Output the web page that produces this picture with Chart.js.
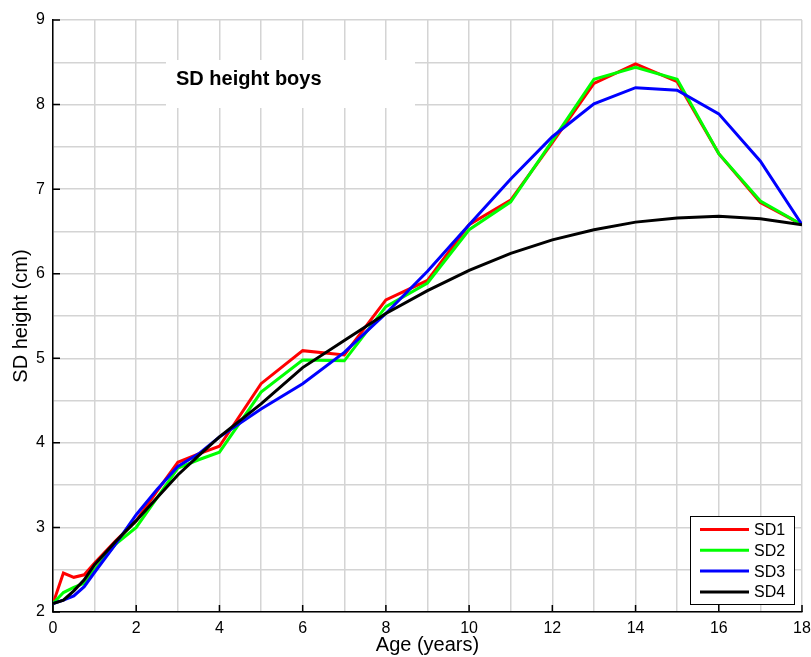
<!DOCTYPE HTML>
<html lang="EN">
  <head>
    <meta charset="utf-8">
    <title>SD height boys</title>
    <style>
      body { margin: 0; background: #fff; }
    </style>
  </head>
  <body>
    <canvas id="sdChart" width="811" height="657"></canvas>

    <script src="https://cdn.jsdelivr.net/npm/chart.js"></script>
    <script>
    const ages = [0, 0.25, 0.5, 0.75, 1, 1.5, 2, 2.5, 3, 3.5, 4, 5, 6, 7, 8, 9, 10, 11, 12, 13, 14, 15, 16, 17, 18];

    const sd1 = [2.1, 2.46, 2.41, 2.44, 2.58, 2.84, 3.08, 3.43, 3.77, 3.87, 3.96, 4.70, 5.09, 5.04, 5.69, 5.92, 6.58, 6.87, 7.55, 8.25, 8.48, 8.27, 7.42, 6.84, 6.58];
    const sd2 = [2.1, 2.23, 2.29, 2.34, 2.5, 2.8, 3.0, 3.35, 3.7, 3.8, 3.89, 4.60, 4.98, 4.97, 5.61, 5.89, 6.52, 6.85, 7.57, 8.30, 8.44, 8.30, 7.42, 6.86, 6.58];
    const sd3 = [2.1, 2.14, 2.19, 2.3, 2.47, 2.8, 3.15, 3.45, 3.72, 3.87, 4.07, 4.40, 4.70, 5.07, 5.53, 6.03, 6.58, 7.12, 7.62, 8.01, 8.20, 8.17, 7.89, 7.33, 6.58];
    const sd4 = [2.1, 2.14, 2.25, 2.38, 2.56, 2.83, 3.08, 3.35, 3.62, 3.85, 4.07, 4.46, 4.89, 5.21, 5.53, 5.80, 6.04, 6.24, 6.40, 6.52, 6.61, 6.66, 6.68, 6.65, 6.58];

    const seriesNames = ['SD1', 'SD2', 'SD3', 'SD4'];
    const seriesColors = ['#ff0000', '#00ff00', '#0000ff', '#000000'];
    const seriesValues = [sd1, sd2, sd3, sd4];

    const chartTitle = 'SD height boys';
    const xTitle = 'Age (years)';
    const yTitle = 'SD height (cm)';

    const FONT = '"Liberation Sans", Arial, Helvetica, sans-serif';

    const datasets = seriesValues.map(function(vals, i){
      return {
        label: seriesNames[i],
        data: vals.map(function(v, j){ return { x: ages[j], y: v }; }),
        borderColor: seriesColors[i],
        backgroundColor: seriesColors[i],
        borderWidth: 3,
        pointRadius: 0,
        tension: 0,
        order: seriesValues.length - i
      };
    });

    // title box, legend box and inward tick marks like the matlab figure
    const extras = {
      id: 'extras',
      beforeDatasetsDraw: function(chart){
        const ctx = chart.ctx;
        ctx.save();
        ctx.fillStyle = '#fff';
        ctx.fillRect(166, 60, 249, 48);
        ctx.fillStyle = '#000';
        ctx.font = 'bold 20px ' + FONT;
        ctx.textBaseline = 'alphabetic';
        ctx.fillText(chartTitle, 176, 85);
        ctx.restore();
      },
      afterDatasetsDraw: function(chart){
        const ctx = chart.ctx;
        const x = chart.scales.x, y = chart.scales.y;
        const area = chart.chartArea;
        ctx.save();
        ctx.strokeStyle = '#000';
        ctx.lineWidth = 1.5;
        ctx.beginPath();
        for (let a = 0; a <= 18; a += 2) {
          const px = x.getPixelForValue(a);
          ctx.moveTo(px, area.bottom);
          ctx.lineTo(px, area.bottom - 7);
        }
        for (let v = 2; v <= 9; v++) {
          const py = y.getPixelForValue(v);
          ctx.moveTo(area.left, py);
          ctx.lineTo(area.left + 7, py);
        }
        ctx.stroke();

        // legend
        const lx = 690.5, ly = 516.5, lw = 104, lh = 88;
        ctx.fillStyle = '#fff';
        ctx.fillRect(lx, ly, lw, lh);
        ctx.lineWidth = 1;
        ctx.strokeRect(lx, ly, lw, lh);
        ctx.font = '16px ' + FONT;
        ctx.textBaseline = 'middle';
        seriesNames.forEach(function(name, i){
          const ry = 529.5 + i * 20.8;
          ctx.strokeStyle = seriesColors[i];
          ctx.lineWidth = 3;
          ctx.beginPath();
          ctx.moveTo(700, ry);
          ctx.lineTo(749, ry);
          ctx.stroke();
          ctx.fillStyle = '#000';
          ctx.fillText(name, 754, ry + 1);
        });
        ctx.restore();
      }
    };

    const config = {
      type: 'line',
      data: { datasets: datasets },
      options: {
        responsive: false,
        animation: false,
        layout: { padding: { top: 20, right: 0, left: 0, bottom: 0 } },
        plugins: {
          legend: { display: false },
          tooltip: { enabled: false }
        },
        scales: {
          x: {
            type: 'linear',
            min: 0,
            max: 18,
            afterFit: function(scale){
              scale.height = 45;
              scale.paddingLeft = 0;
              scale.paddingRight = 9;
            },
            grid: { color: '#d4d4d4', lineWidth: 1.5, drawTicks: false },
            border: { color: '#000', width: 1.5 },
            ticks: {
              stepSize: 1,
              autoSkip: false,
              maxRotation: 0,
              padding: 7,
              color: '#000',
              font: { family: FONT, size: 16 },
              callback: function(v){ return v % 2 === 0 ? v : ''; }
            },
            title: {
              display: true,
              text: xTitle,
              color: '#000',
              padding: { top: 0, bottom: 0 },
              font: { family: FONT, size: 20 }
            }
          },
          y: {
            min: 2,
            max: 9,
            afterFit: function(scale){ scale.width = 53; },
            grid: { color: '#d4d4d4', lineWidth: 1.5, drawTicks: false },
            border: { color: '#000', width: 1.5 },
            ticks: {
              stepSize: 0.5,
              autoSkip: false,
              padding: 8,
              color: '#000',
              font: { family: FONT, size: 16 },
              callback: function(v){ return Number.isInteger(v) ? v : ''; }
            },
            title: {
              display: true,
              text: yTitle,
              color: '#000',
              padding: { top: 9, bottom: 0 },
              font: { family: FONT, size: 20 }
            }
          }
        }
      },
      plugins: [extras]
    };

    var sdChart = new Chart(
        document.getElementById('sdChart'),
        config
    );
    </script>
  </body>
</html>
